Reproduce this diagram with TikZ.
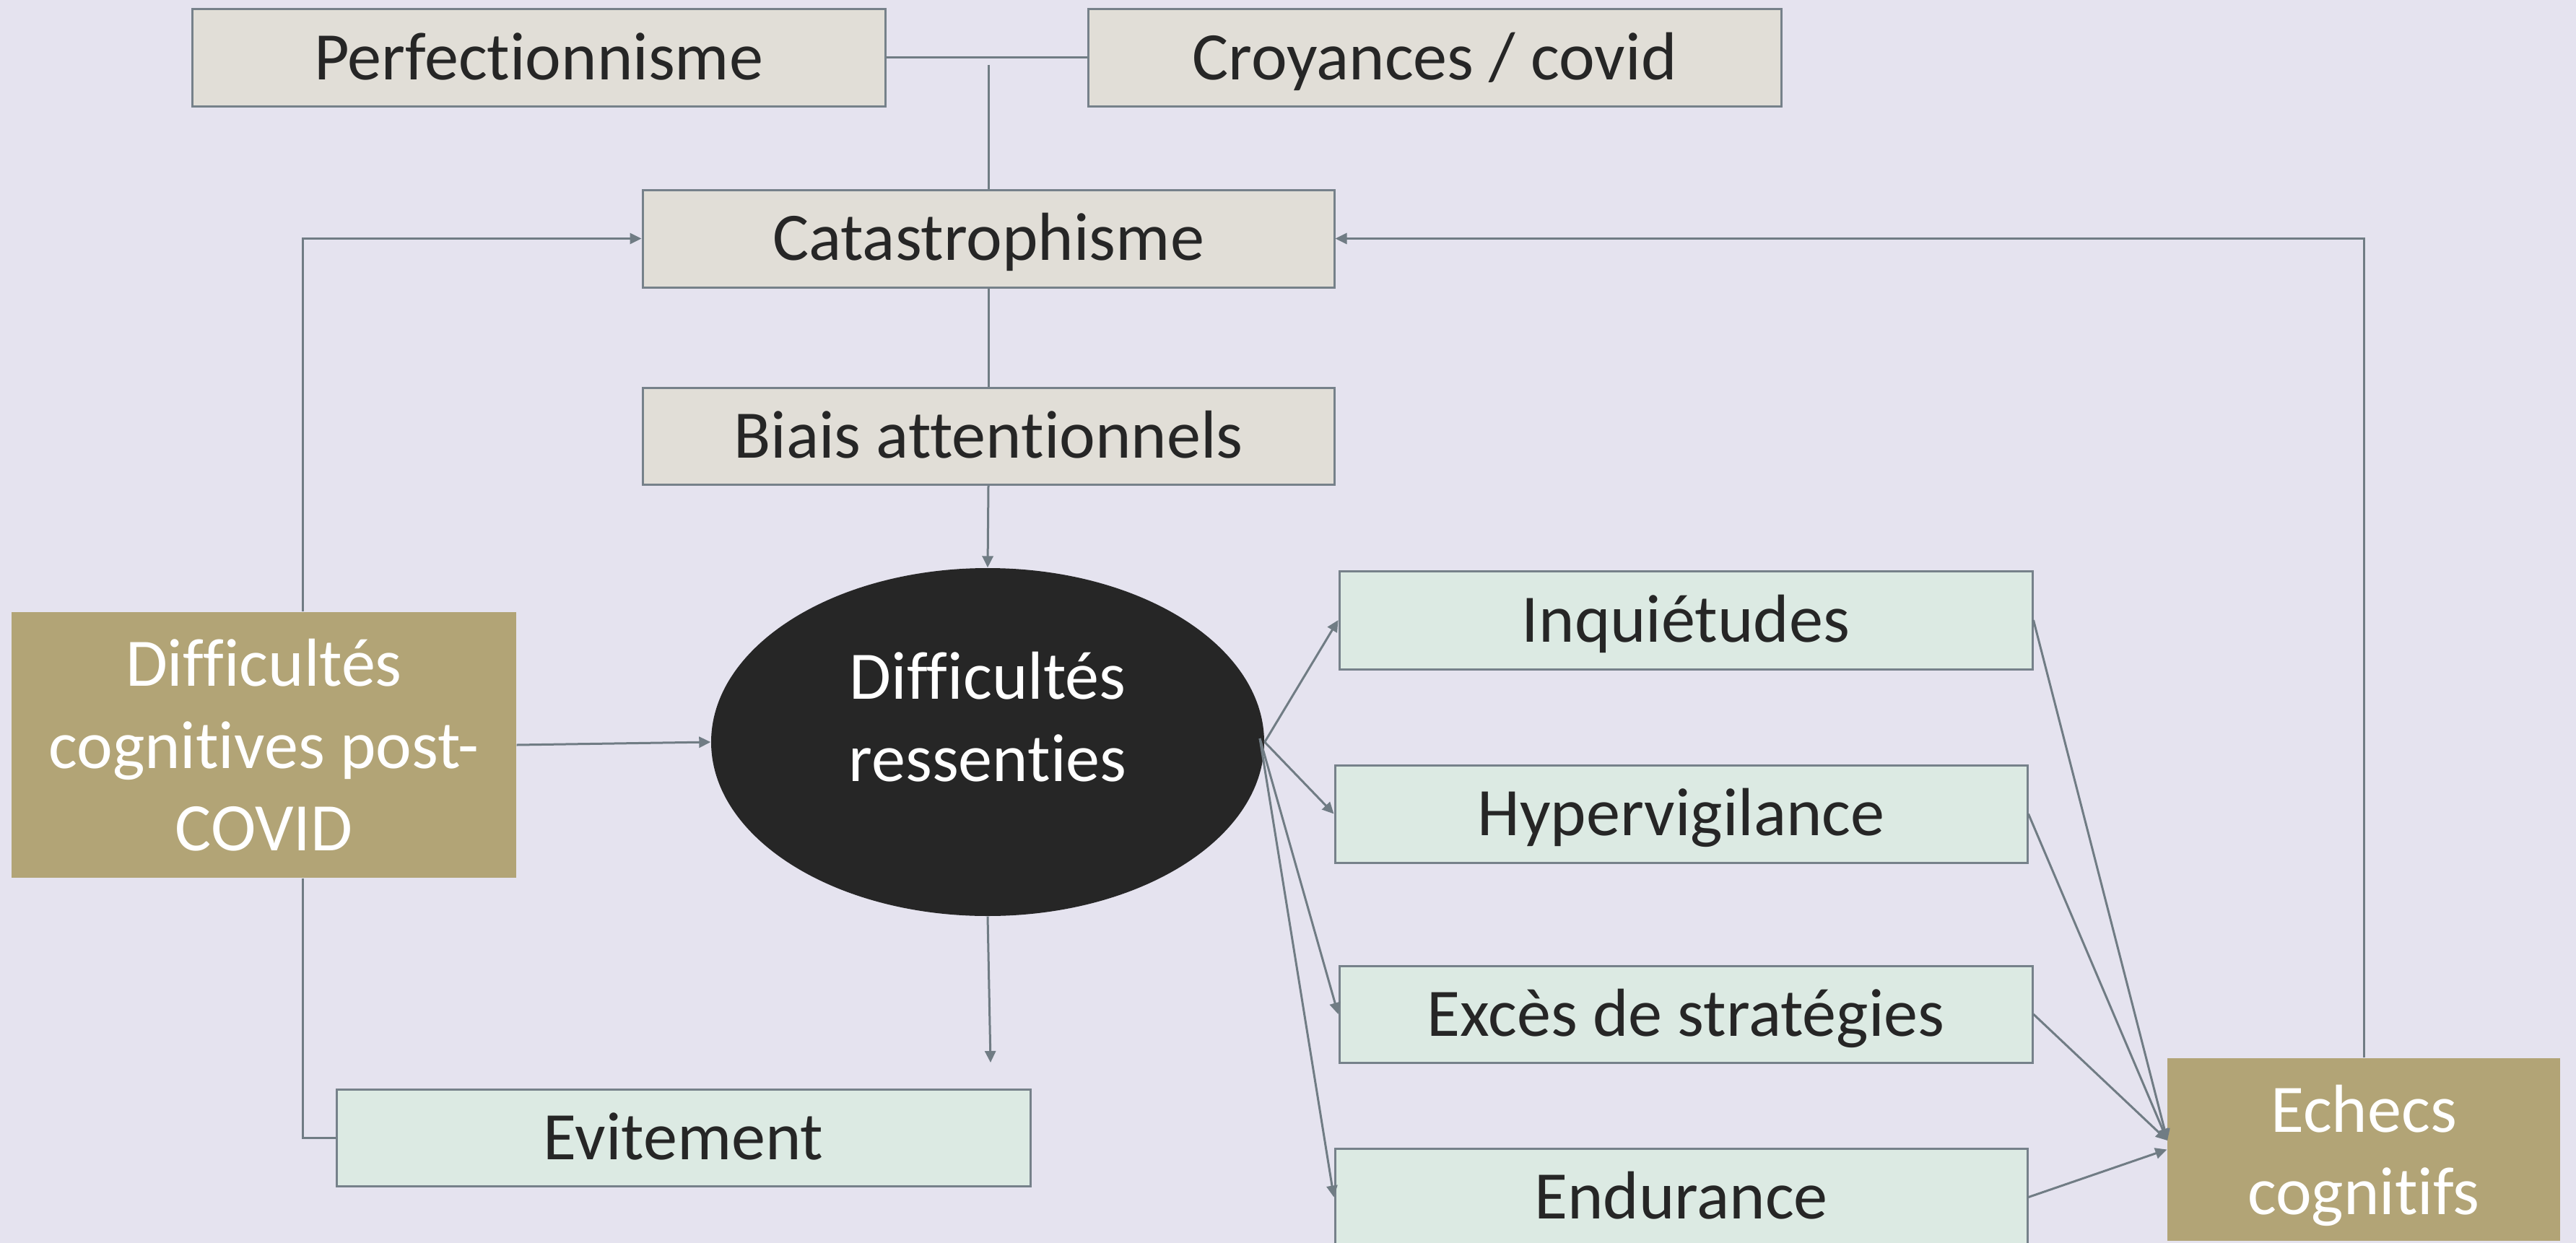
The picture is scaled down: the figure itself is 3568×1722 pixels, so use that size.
\documentclass[tikz,border=0pt]{standalone}
\usepackage{fontspec}
\setmainfont{Carlito}[Ligatures=NoCommon]
\usetikzlibrary{arrows.meta,shapes.geometric,calc}

\definecolor{bgcol}{HTML}{E5E3EF}
\definecolor{greyfill}{HTML}{E1DED7}
\definecolor{mintfill}{HTML}{DCEAE3}
\definecolor{olive}{HTML}{B2A476}
\definecolor{edgecol}{HTML}{76818A}
\definecolor{linkcol}{HTML}{707C84}
\definecolor{darkfill}{HTML}{262626}

\tikzset{
  every node/.style={font=\fontsize{26.8pt}{32.4pt}\selectfont, inner sep=0pt},
  box/.style={draw=edgecol, line width=0.3mm, minimum width=96mm, minimum height=13.5mm,
              text=black!85, text height=20pt, text depth=2.7pt},
  greybox/.style={box, fill=greyfill},
  mintbox/.style={box, fill=mintfill},
  olivebox/.style={fill=olive, text=white, align=center},
  link/.style={draw=linkcol, line width=0.3mm},
  arr/.style={link, -{Triangle[length=1.6mm,width=1.5mm]}},
}

\begin{document}
\begin{tikzpicture}[x=0.1mm, y=-0.1mm]
  % canvas
  \fill[bgcol] (0,0) rectangle (3568,1722);
  \useasboundingbox (0,0) rectangle (3568,1722);

  % top row
  \node[greybox] (perf) at (746,80) {Perfectionnisme};
  \node[greybox] (croy) at (1987,80) {Croyances / covid};
  \node[greybox, minimum width=95.8mm] (cat) at (1369,330.5) {Catastrophisme};
  \node[greybox, minimum width=95.8mm, minimum height=13.4mm] (biais) at (1369,604) {Biais attentionnels};

  % central ellipse
  \node[ellipse, fill=darkfill, minimum width=76.6mm, minimum height=48.2mm] (res) at (1368,1028) {};
  \node[text=white, align=center] (restxt) at (1368,993) {Difficultés\\ressenties};

  % left source box
  \node[olivebox, minimum width=69.9mm, minimum height=36.8mm] (diffcog) at (365.5,1032)
        {Difficultés\\cognitives post-\\COVID};

  % outcome boxes
  \node[mintbox, minimum width=96.1mm, minimum height=13.4mm] (evit) at (946.5,1576) {Evitement};
  \node[mintbox, minimum height=13.6mm] (inq) at (2335,859) {Inquiétudes};
  \node[mintbox, minimum width=95.9mm] (hyper) at (2328.5,1127.5) {Hypervigilance};
  \node[mintbox, minimum height=13.4mm] (exces) at (2335,1405) {Excès de stratégies};
  \node[mintbox, minimum width=95.9mm] (endur) at (2328.5,1658.5) {Endurance};

  % right sink box
  \node[olivebox, minimum width=54.4mm, minimum height=25.3mm, text depth=0pt] (echecs) at (3274,1592.5)
        {Echecs\\cognitifs};

  % helper points
  \coordinate (lx) at (419,0);
  \coordinate (jn) at (1369,90);
  \coordinate (evend) at (1372,1472);
  \coordinate (rs) at (1745,1023);
  \coordinate (ein) at (3002,1580);

  % links
  \draw[link] (perf.east) -- (croy.west);
  \draw[link] (jn) -- (cat.north);
  \draw[link] (cat.south) -- (biais.north);
  \draw[arr] (biais.south) -- (res.north);
  \draw[arr] (diffcog.north -| lx) |- (cat.west);
  \draw[link] (diffcog.south -| lx) |- (evit.west);
  \draw[arr] (diffcog.east) -- (res.west);
  \draw[arr] (res.south) -- (evend);

  \draw[arr] (res.east) -- (inq.west);
  \draw[arr] (res.east) -- (hyper.west);
  \draw[arr] (rs) -- (exces.west);
  \draw[arr] (rs) -- (endur.west);

  \draw[arr] (inq.east) -- (ein);
  \draw[arr] (hyper.east) -- (ein);
  \draw[arr] (exces.east) -- (ein);
  \draw[arr] (endur.east) -- (echecs.west);

  \draw[arr] (echecs.north) |- (cat.east);
\end{tikzpicture}
\end{document}
